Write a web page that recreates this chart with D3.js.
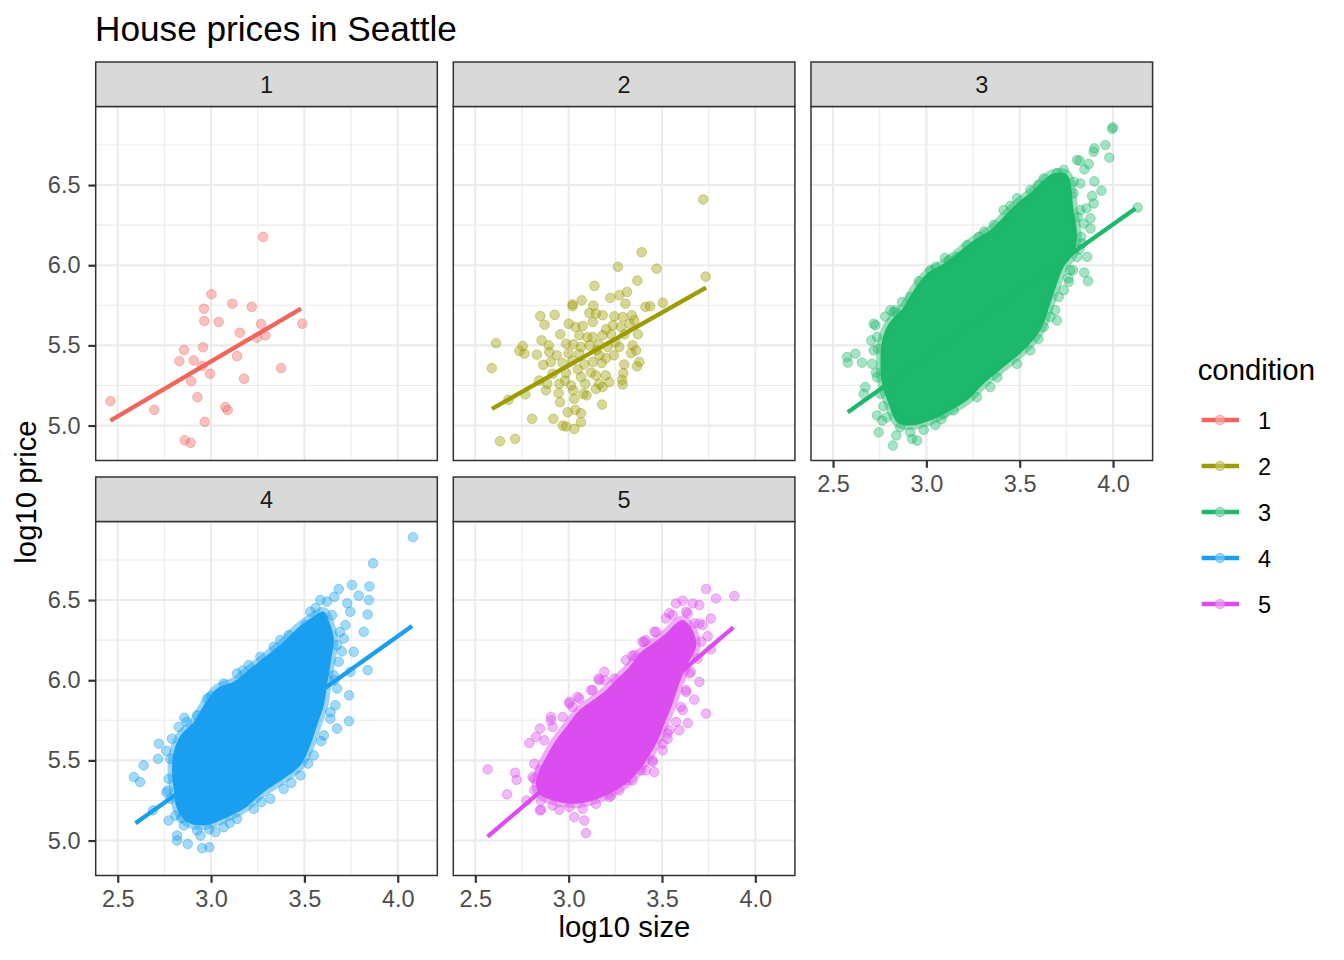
<!DOCTYPE html>
<html>
<head>
<meta charset="utf-8">
<script src="https://cdnjs.cloudflare.com/ajax/libs/d3/7.8.5/d3.min.js"></script>
<style>
  body { margin: 0; background: #fff; }
  text { font-family: "Liberation Sans", Arial, sans-serif; }
</style>
</head>
<body>
<script>
var conditions = ['1', '2', '3', '4', '5'];
var colors = ['#F2655C', '#9C9C00', '#1DB86B', '#1A9FF0', '#DC4DEF'];
var xTicks = [2.5, 3.0, 3.5, 4.0];
var xMinor = [2.75, 3.25, 3.75];
var yTicks = [5.0, 5.5, 6.0, 6.5];
var yMinor = [5.25, 5.75, 6.25, 6.75];

// lm fit lines: [x0, y0, x1, y1]
var fits = [
  [2.461, 5.031, 3.482, 5.729],
  [2.589, 5.104, 3.736, 5.860],
  [2.579, 5.083, 4.120, 6.354],
  [2.595, 5.108, 4.077, 6.338],
  [2.566, 5.025, 3.882, 6.329]
];

var points1 = [[3.279,6.177],[3.002,5.819],[3.114,5.760],[3.218,5.740],[2.962,5.729],[2.964,5.652],[3.041,5.646],
  [3.268,5.633],[3.489,5.635],[3.154,5.579],[3.246,5.548],[3.291,5.563],[2.957,5.488],[2.855,5.471],[2.830,5.402],
  [2.907,5.406],[2.952,5.371],[3.139,5.433],[2.995,5.323],[2.893,5.277],[3.177,5.292],[3.375,5.358],[2.461,5.152],
  [2.696,5.098],[2.927,5.177],[3.077,5.115],[3.089,5.096],[2.966,5.023],[2.859,4.908],[2.891,4.892]];

var points2 = [[3.721,6.410],[3.734,5.929],[3.391,6.081],[3.264,5.990],[3.471,5.979],[3.368,5.904],[3.138,5.871],
  [3.223,5.796],[3.271,5.813],[3.313,5.833],[3.304,5.760],[3.070,5.781],[3.021,5.756],[3.021,5.744],[3.132,5.748],
  [3.411,5.740],[3.436,5.744],[3.504,5.765],[2.848,5.683],[2.925,5.690],[2.871,5.629],[3.000,5.635],[3.036,5.615],
  [3.075,5.621],[3.111,5.702],[3.146,5.698],[3.182,5.688],[3.129,5.646],[3.245,5.681],[3.289,5.677],[3.339,5.688],
  [3.352,5.656],[3.236,5.625],[3.280,5.615],[3.325,5.635],[3.371,5.569],[2.955,5.569],[3.057,5.563],[3.129,5.552],
  [3.182,5.563],[3.227,5.569],[2.611,5.513],[2.855,5.531],[2.754,5.496],[2.736,5.465],[2.763,5.448],[2.830,5.442],
  [2.893,5.500],[2.896,5.458],[2.986,5.510],[3.025,5.506],[3.066,5.490],[3.111,5.500],[3.161,5.506],[3.209,5.490],
  [3.271,5.490],[3.343,5.500],[3.361,5.469],[3.334,5.452],[2.936,5.438],[3.057,5.448],[3.164,5.438],[3.243,5.438],
  [2.588,5.358],[2.864,5.379],[2.904,5.396],[2.968,5.390],[3.021,5.406],[3.084,5.381],[3.129,5.396],[3.177,5.390],
  [3.298,5.381],[3.379,5.396],[3.366,5.369],[2.914,5.323],[2.986,5.327],[3.066,5.302],[3.146,5.313],[3.198,5.313],
  [3.293,5.327],[3.286,5.285],[2.843,5.281],[2.886,5.260],[2.950,5.260],[3.013,5.250],[3.089,5.260],[3.164,5.260],
  [3.218,5.271],[3.289,5.256],[2.879,5.219],[2.946,5.202],[3.025,5.219],[3.079,5.198],[3.146,5.229],[3.182,5.240],
  [2.677,5.160],[2.768,5.194],[2.954,5.146],[3.030,5.167],[3.096,5.188],[3.179,5.131],[2.804,5.042],[2.918,5.042],
  [2.995,5.083],[3.036,5.098],[3.066,5.077],[2.968,5.000],[2.986,4.994],[3.030,4.979],[3.066,5.021],[2.632,4.902],
  [2.713,4.917],[3.10,5.55],[3.20,5.60],[3.15,5.47],[3.05,5.35],[3.00,5.45],[3.25,5.52],[3.12,5.33],[3.20,5.42],
  [3.30,5.57],[2.98,5.28]];

// panels 3-5: the saturated core of the cloud as an outline, plus the loose points around it
var core3 = [[3.682,6.573],[3.754,6.563],[3.789,6.344],[3.807,6.177],[3.789,6.073],[3.736,5.990],[3.700,5.885],
  [3.664,5.760],[3.611,5.594],[3.521,5.469],[3.414,5.365],[3.307,5.260],[3.218,5.156],[3.129,5.094],[3.021,5.031],
  [2.914,5.000],[2.843,5.021],[2.798,5.135],[2.763,5.260],[2.754,5.385],[2.763,5.531],[2.798,5.635],[2.879,5.740],
  [2.932,5.844],[3.004,5.948],[3.093,6.010],[3.164,6.073],[3.254,6.156],[3.343,6.219],[3.414,6.302],[3.486,6.385],
  [3.575,6.469],[3.629,6.531]];
var points3 = [[3.995,6.850],[4.000,6.860],[3.900,6.729],[3.896,6.708],[3.959,6.750],[3.980,6.671],[3.807,6.656],
  [3.821,6.652],[3.870,6.631],[3.846,6.598],[4.132,6.360],[3.900,6.523],[3.938,6.465],[3.888,6.431],[3.896,6.385],
  [3.857,6.354],[3.879,6.292],[3.879,6.229],[3.829,6.177],[3.861,6.052],[3.846,5.954],[3.866,5.902],[3.786,5.969],
  [3.763,5.896],[3.700,5.656],[3.709,5.802],[2.575,5.427],[2.579,5.392],[2.620,5.448],[2.655,5.392],[2.727,5.625],
  [2.825,5.708],[2.673,5.240],[2.664,5.198],[2.736,5.063],[2.745,4.958],[2.821,4.875],[2.839,4.938],[2.923,4.917],
  [2.950,4.906],[3.048,5.004],[3.093,5.073],[2.763,5.031],[2.718,5.469],[2.705,5.531],
  [3.218,6.125],[3.120,6.031],[3.021,5.969],[2.914,5.802],[2.834,5.719],[2.718,5.635],[2.736,5.552],[2.709,5.385],
  [2.736,5.302],[2.754,5.198],[2.789,5.052],[2.914,4.958],[2.986,4.973],[3.146,5.094],[3.271,5.177],[3.343,5.240],
  [3.486,5.385],[3.557,5.469],[3.629,5.615],[3.664,5.677],[3.736,5.844],[3.771,5.969],[3.807,6.052],[3.834,6.135],
  [3.843,6.260],[3.825,6.344],[3.789,6.448],[3.825,6.510],[3.736,6.594],[3.700,6.573],[3.629,6.542],[3.557,6.469],
  [3.486,6.417],[3.414,6.344],[3.361,6.250],[3.280,6.177],[3.164,6.052],[2.807,5.719],
  [3.050,5.990],[2.960,5.900],[2.870,5.770],[2.780,5.680],[2.740,5.480],[2.730,5.330],[2.770,5.120],[2.860,4.990],
  [3.080,5.040],[3.380,5.300],[3.600,5.540],[3.690,5.720],[3.760,5.920],[3.820,6.100],[3.810,6.300],[3.790,6.520],
  [3.600,6.500],[3.450,6.370],[3.310,6.210],[3.100,6.045]];

var core4 = [[3.604,6.427],[3.639,6.344],[3.657,6.260],[3.639,6.094],[3.621,5.969],[3.604,5.844],[3.568,5.719],
  [3.532,5.594],[3.479,5.469],[3.389,5.385],[3.282,5.302],[3.175,5.198],[3.068,5.135],[2.961,5.094],[2.871,5.115],
  [2.818,5.198],[2.800,5.323],[2.791,5.427],[2.800,5.552],[2.836,5.656],[2.907,5.740],[2.961,5.844],[3.032,5.948],
  [3.121,5.990],[3.211,6.073],[3.300,6.156],[3.389,6.240],[3.461,6.323],[3.532,6.385]];
var points4 = [[4.082,6.892],[3.868,6.729],[3.755,6.594],[3.684,6.569],[3.848,6.585],[3.791,6.527],[3.846,6.500],
  [3.839,6.410],[3.746,6.427],[3.818,6.302],[3.720,6.344],[3.764,6.177],[3.839,6.063],[3.746,6.052],[3.739,5.906],
  [3.739,5.744],[3.675,5.698],[2.639,5.469],[2.586,5.396],[2.620,5.365],[2.720,5.604],[2.716,5.510],[2.689,5.188],
  [2.768,5.313],[2.773,5.125],[2.818,5.031],[2.818,5.000],[2.875,4.979],[2.952,4.952],[2.991,4.958],[2.943,5.031],
  [3.023,5.052],[2.857,5.765],
  [3.621,6.490],[3.586,6.500],[3.532,6.427],[3.505,6.344],[3.416,6.281],[3.336,6.208],[3.264,6.146],[3.202,6.094],
  [3.139,6.042],[3.068,5.979],[2.979,5.885],[2.925,5.781],[2.827,5.708],[2.791,5.635],[2.782,5.510],[2.773,5.385],
  [2.782,5.260],[2.809,5.156],[2.854,5.094],[2.925,5.063],[3.068,5.083],[3.139,5.135],[3.229,5.198],[3.318,5.260],
  [3.389,5.323],[3.479,5.406],[3.550,5.531],[3.604,5.656],[3.639,5.760],[3.666,5.844],[3.675,5.948],[3.657,6.031],
  [3.684,6.115],[3.675,6.219],[3.711,6.260],[3.648,6.406],
  [3.690,6.300],[3.700,6.180],[3.660,6.000],[3.640,5.800],[3.590,5.620],[3.520,5.480],[3.430,5.360],[3.270,5.240],
  [3.100,5.110],[2.990,5.070],[2.840,5.140],[2.760,5.300],[2.760,5.560],[2.870,5.740],[3.000,5.900],[3.170,6.060],
  [3.370,6.250],[3.560,6.450],[3.660,6.520],[3.730,6.480]];

var core5 = [[3.611,6.375],[3.664,6.313],[3.682,6.208],[3.629,6.083],[3.593,5.979],[3.557,5.854],[3.521,5.750],
  [3.486,5.646],[3.450,5.563],[3.379,5.438],[3.307,5.354],[3.218,5.292],[3.129,5.250],[3.039,5.229],[2.914,5.250],
  [2.843,5.292],[2.825,5.354],[2.843,5.438],[2.879,5.521],[2.932,5.625],[2.986,5.708],[3.057,5.813],[3.129,5.875],
  [3.200,5.938],[3.271,6.021],[3.325,6.083],[3.379,6.167],[3.450,6.229],[3.521,6.292],[3.575,6.354]];
var points5 = [[3.736,6.569],[3.789,6.510],[3.888,6.525],[3.611,6.496],[3.664,6.479],[3.700,6.469],[3.762,6.385],
  [3.745,6.275],[3.763,6.192],[3.700,5.990],[3.673,5.879],[3.736,5.792],[3.638,5.733],[3.530,5.667],[3.504,5.563],
  [3.459,5.427],[2.566,5.444],[2.713,5.423],[2.721,5.379],[2.670,5.288],[2.775,5.250],[2.846,5.188],[2.950,5.192],
  [3.030,5.146],[3.084,5.125],[3.093,5.046],[2.789,5.608],[2.905,5.750],[3.004,5.854],[3.191,6.052],[3.396,6.240],
  [3.521,6.385],
  [3.575,6.479],[3.629,6.427],[3.700,6.354],[3.709,6.240],[3.691,6.135],[3.646,6.042],[3.629,5.938],[3.602,5.833],
  [3.575,5.740],[3.539,5.688],[3.504,5.604],[3.450,5.500],[3.414,5.438],[3.343,5.375],[3.271,5.313],[3.218,5.271],
  [3.146,5.229],[3.075,5.198],[3.004,5.208],[2.914,5.219],[2.852,5.250],[2.816,5.313],[2.807,5.396],[2.816,5.479],
  [2.825,5.646],[2.870,5.625],[2.914,5.708],[2.968,5.771],[3.021,5.833],[3.057,5.885],[3.129,5.938],[3.164,6.000],
  [3.245,6.010],[3.307,6.125],[3.352,6.156],[3.414,6.250],[3.468,6.302],[3.539,6.417],
  [2.846,5.698],[2.905,5.771],[3.004,5.865],[3.048,5.896],[3.120,5.938],[3.161,6.010],[3.191,6.000],[3.339,6.152],
  [3.405,6.240],[3.459,6.302],[3.557,6.406],[3.638,6.417],[3.673,6.354],[3.718,6.344],[3.655,6.052],[3.629,5.927],
  [3.611,5.813],[3.593,5.688],[3.530,5.635],[3.450,5.490],[3.388,5.438],[3.307,5.375],[3.227,5.281],[2.852,5.192],
  [2.816,5.385],[2.846,5.438]];

var panelPoints = [points1, points2, points3, points4, points5];
var panelCores = [null, null, core3, core4, core5];

var width = 1344, height = 960;
var colLeft = [95.7, 453.3, 811];
var rowTop = [106.5, 521.5];
var panel_w = 341.6, panel_h = 354, strip_h = 44.5;
var layout = [{col: 0, row: 0}, {col: 1, row: 0}, {col: 2, row: 0}, {col: 0, row: 1}, {col: 1, row: 1}];

var svg = d3.select('body').append('svg')
            .attr('width', width)
            .attr('height', height);

var x = d3.scaleLinear().domain([2.382, 4.212]).range([0, panel_w]);
var y = d3.scaleLinear().domain([4.782, 6.990]).range([panel_h, 0]);

svg.append('text')
   .attr('x', 95).attr('y', 40.7)
   .style('font-size', '35.2px')
   .text('House prices in Seattle');

function draw_panel(i){
    var pos = layout[i];
    var g = svg.append('g')
               .attr('transform', 'translate(' + colLeft[pos.col] + ',' + rowTop[pos.row] + ')');
    var color = colors[i];

    g.append('clipPath').attr('id', 'clip' + i)
     .append('rect').attr('width', panel_w).attr('height', panel_h);

    var grid = g.append('g');
    grid.selectAll('.vminor').data(xMinor).enter().append('line')
        .attr('x1', x).attr('x2', x).attr('y1', 0).attr('y2', panel_h)
        .style('stroke', '#EBEBEB').style('stroke-width', 1.1);
    grid.selectAll('.hminor').data(yMinor).enter().append('line')
        .attr('y1', y).attr('y2', y).attr('x1', 0).attr('x2', panel_w)
        .style('stroke', '#EBEBEB').style('stroke-width', 1.1);
    grid.selectAll('.vmajor').data(xTicks).enter().append('line')
        .attr('x1', x).attr('x2', x).attr('y1', 0).attr('y2', panel_h)
        .style('stroke', '#EBEBEB').style('stroke-width', 2.1);
    grid.selectAll('.hmajor').data(yTicks).enter().append('line')
        .attr('y1', y).attr('y2', y).attr('x1', 0).attr('x2', panel_w)
        .style('stroke', '#EBEBEB').style('stroke-width', 2.1);

    var marks = g.append('g').attr('clip-path', 'url(#clip' + i + ')');

    if(panelCores[i]){
        var outline = d3.line()
                        .x(function(d){ return x(d[0]); })
                        .y(function(d){ return y(d[1]); })
                        .curve(d3.curveCatmullRomClosed);
        marks.append('path')
             .attr('d', outline(panelCores[i]))
             .style('fill', color)
             .style('stroke', color)
             .style('stroke-opacity', 0.45)
             .style('stroke-width', 9)
             .style('stroke-linejoin', 'round');
    }

    marks.selectAll('circle').data(panelPoints[i]).enter().append('circle')
         .attr('cx', function(d){ return x(d[0]); })
         .attr('cy', function(d){ return y(d[1]); })
         .attr('r', 4.8)
         .style('fill', color).style('fill-opacity', 0.4)
         .style('stroke', color).style('stroke-opacity', 0.4)
         .style('stroke-width', 1);

    var f = fits[i];
    marks.append('line')
         .attr('x1', x(f[0])).attr('y1', y(f[1]))
         .attr('x2', x(f[2])).attr('y2', y(f[3]))
         .style('stroke', color)
         .style('stroke-width', 4.3);

    g.append('rect')
     .attr('width', panel_w).attr('height', panel_h)
     .style('fill', 'none').style('stroke', '#333333').style('stroke-width', 1.5);

    // strip
    g.append('rect')
     .attr('y', -strip_h).attr('width', panel_w).attr('height', strip_h)
     .style('fill', '#D9D9D9').style('stroke', '#333333').style('stroke-width', 1.5);
    g.append('text')
     .attr('x', panel_w/2).attr('y', -strip_h/2 + 8.3)
     .attr('text-anchor', 'middle')
     .style('font-size', '23.5px').style('fill', '#1A1A1A')
     .text(conditions[i]);

    // x axis only where nothing sits below
    if(pos.row == 1 || pos.col == 2){
        var ax = g.append('g').attr('transform', 'translate(0,' + panel_h + ')')
                  .call(d3.axisBottom(x).tickValues(xTicks).tickFormat(d3.format('.1f'))
                        .tickSize(7.3).tickPadding(7.5));
        style_axis(ax);
    }
    if(pos.col == 0){
        var ay = g.append('g')
                  .call(d3.axisLeft(y).tickValues(yTicks).tickFormat(d3.format('.1f'))
                        .tickSize(7.3).tickPadding(7.9));
        style_axis(ay);
    }
}

function style_axis(a){
    a.select('.domain').remove();
    a.selectAll('line').style('stroke', '#333333').style('stroke-width', 2.2);
    a.selectAll('text')
     .style('font-family', '"Liberation Sans", Arial, sans-serif')
     .style('font-size', '23.5px').style('fill', '#4D4D4D');
}

for(var i=0; i<layout.length; i++){
    draw_panel(i);
}

svg.append('text')
   .attr('x', 624.4).attr('y', 937)
   .attr('text-anchor', 'middle')
   .style('font-size', '29.3px')
   .text('log10 size');

svg.append('text')
   .attr('transform', 'translate(36,492) rotate(-90)')
   .attr('text-anchor', 'middle')
   .style('font-size', '29.3px')
   .text('log10 price');

// legend
var legend = svg.append('g');
legend.append('text')
      .attr('x', 1197.7).attr('y', 380)
      .style('font-size', '29.3px')
      .text('condition');
var keys = legend.selectAll('.key').data(conditions).enter().append('g')
                 .attr('transform', function(d, i){ return 'translate(0,' + (420 + i*46) + ')'; });
keys.append('line')
    .attr('x1', 1201.7).attr('x2', 1239)
    .style('stroke', function(d, i){ return colors[i]; })
    .style('stroke-width', 4.3);
keys.append('circle')
    .attr('cx', 1220).attr('r', 4.8)
    .style('fill', '#fff').style('fill-opacity', 0.5);
keys.append('circle')
    .attr('cx', 1220).attr('r', 4.8)
    .style('fill', function(d, i){ return colors[i]; }).style('fill-opacity', 0.4)
    .style('stroke', function(d, i){ return colors[i]; }).style('stroke-opacity', 0.4);
keys.append('text')
    .attr('x', 1258).attr('y', 8.5)
    .style('font-size', '23.5px')
    .text(function(d){ return d; });
</script>
</body>
</html>
